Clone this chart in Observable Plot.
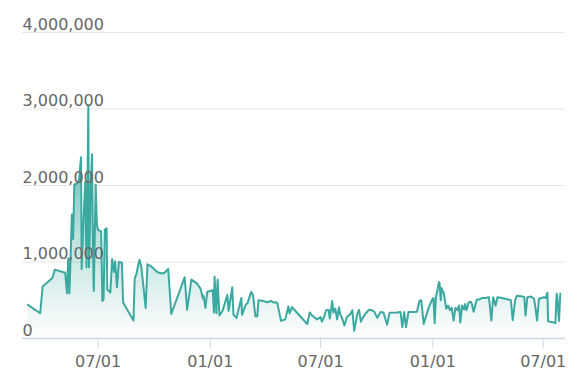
<!DOCTYPE html>
<html>
<head>
<meta charset="utf-8">
<script src="https://cdn.jsdelivr.net/npm/d3@7"></script>
<script src="https://cdn.jsdelivr.net/npm/@observablehq/plot@0.6"></script>
<style>
  html, body { margin: 0; padding: 0; background: #fff; }
</style>
</head>
<body>
<div id="chart"></div>
<script>
const dates = [
  "2020-03-08","2020-03-28","2020-04-01","2020-04-17","2020-04-21","2020-05-08","2020-05-11","2020-05-13","2020-05-15","2020-05-19",
  "2020-05-21","2020-05-23","2020-05-28","2020-05-31","2020-06-03","2020-06-04","2020-06-07","2020-06-10","2020-06-12","2020-06-15",
  "2020-06-16","2020-06-19","2020-06-21","2020-06-23","2020-06-24","2020-06-27","2020-06-29","2020-07-01","2020-07-06","2020-07-08",
  "2020-07-10","2020-07-12","2020-07-15","2020-07-16","2020-07-21","2020-07-24","2020-07-27","2020-07-29","2020-08-01","2020-08-04",
  "2020-08-09","2020-08-11","2020-08-28","2020-08-30","2020-09-02","2020-09-05","2020-09-07","2020-09-10","2020-09-17","2020-09-20",
  "2020-09-25","2020-10-06","2020-10-13","2020-10-18","2020-10-24","2020-10-29","2020-11-20","2020-11-24","2020-12-01","2020-12-10",
  "2020-12-16","2020-12-20","2020-12-21","2020-12-24","2020-12-27","2021-01-05","2021-01-07","2021-01-08","2021-01-11","2021-01-13",
  "2021-01-16","2021-01-21","2021-01-29","2021-01-31","2021-02-06","2021-02-08","2021-02-13","2021-02-21","2021-02-22","2021-02-28",
  "2021-03-03","2021-03-09","2021-03-12","2021-03-16","2021-03-19","2021-03-21","2021-03-29","2021-04-04","2021-04-11","2021-04-15",
  "2021-04-19","2021-04-21","2021-04-27","2021-05-04","2021-05-09","2021-05-11","2021-05-15","2021-05-24","2021-06-09","2021-06-13",
  "2021-06-17","2021-06-25","2021-07-01","2021-07-03","2021-07-06","2021-07-10","2021-07-14","2021-07-16","2021-07-20","2021-07-22",
  "2021-07-25","2021-07-28","2021-07-31","2021-08-02","2021-08-05","2021-08-09","2021-08-13","2021-08-19","2021-08-22","2021-08-25",
  "2021-08-30","2021-09-02","2021-09-05","2021-09-08","2021-09-12","2021-09-18","2021-09-23","2021-09-27","2021-10-02","2021-10-07",
  "2021-10-12","2021-10-18","2021-10-22","2021-11-03","2021-11-09","2021-11-12","2021-11-15","2021-11-18","2021-11-22","2021-11-30",
  "2021-12-06","2021-12-10","2021-12-13","2021-12-17","2021-12-25","2021-12-31","2022-01-02","2022-01-04","2022-01-06","2022-01-08",
  "2022-01-11","2022-01-12","2022-01-14","2022-01-15","2022-01-19","2022-01-23","2022-01-26","2022-01-29","2022-02-01","2022-02-04",
  "2022-02-07","2022-02-10","2022-02-13","2022-02-15","2022-02-18","2022-02-21","2022-02-23","2022-02-25","2022-03-01","2022-03-04",
  "2022-03-06","2022-03-09","2022-03-14","2022-03-18","2022-03-23","2022-03-28","2022-04-03","2022-04-07","2022-04-10","2022-04-14",
  "2022-04-17","2022-04-24","2022-04-30","2022-05-09","2022-05-12","2022-05-16","2022-05-19","2022-05-28","2022-05-31","2022-06-02",
  "2022-06-05","2022-06-11","2022-06-16","2022-06-18","2022-06-21","2022-06-24","2022-07-02","2022-07-05","2022-07-08","2022-07-09",
  "2022-07-18","2022-07-21","2022-07-23","2022-07-24","2022-07-27","2022-07-29"
];
const values = [
  440000,330000,680000,790000,900000,860000,590000,1050000,590000,1620000,
  1300000,2010000,2030000,2080000,2370000,910000,1550000,2050000,930000,3050000,
  930000,2000000,2410000,930000,620000,2010000,1480000,1420000,1400000,490000,
  520000,1420000,1440000,640000,600000,1040000,870000,1010000,670000,1000000,
  990000,470000,235000,780000,850000,970000,1030000,930000,400000,970000,
  950000,870000,850000,860000,910000,320000,800000,375000,770000,720000,
  650000,520000,560000,400000,610000,630000,340000,810000,330000,770000,
  300000,360000,570000,360000,670000,310000,270000,530000,310000,440000,
  460000,610000,570000,290000,290000,500000,490000,475000,490000,470000,
  475000,460000,230000,250000,420000,330000,410000,330000,190000,340000,
  300000,250000,280000,220000,270000,370000,375000,260000,490000,340000,
  390000,250000,410000,320000,270000,170000,280000,320000,370000,100000,
  320000,375000,220000,270000,320000,375000,370000,350000,270000,345000,
  340000,180000,335000,340000,345000,150000,345000,150000,345000,345000,
  350000,490000,500000,190000,400000,510000,530000,200000,540000,610000,
  740000,720000,500000,660000,585000,390000,430000,370000,400000,235000,
  400000,370000,430000,210000,430000,380000,450000,370000,475000,480000,
  450000,350000,510000,510000,530000,530000,540000,235000,540000,430000,
  540000,530000,520000,500000,240000,500000,560000,550000,540000,300000,
  540000,550000,520000,420000,235000,520000,540000,530000,600000,225000,
  210000,200000,585000,550000,230000,585000
];
const xTicks = ["2020-07-01","2021-01-01","2021-07-01","2022-01-01","2022-07-01"];
const yTicks = [0, 1000000, 2000000, 3000000, 4000000];

const data = dates.map((d, i) => ({date: new Date(d), value: values[i]}));
const xTickDates = xTicks.map(d => new Date(d));

const chart = Plot.plot({
  width: 578,
  height: 392,
  marginLeft: 22,
  marginRight: 13,
  marginTop: 32,
  marginBottom: 54,
  style: {fontFamily: "DejaVu Sans", fontSize: "16px", color: "#666", background: "#fff"},
  x: {type: "utc", domain: [new Date("2020-02-28T00:00Z"), new Date("2022-08-06T14:00Z")], label: null},
  y: {domain: [0, 4000000], label: null},
  marks: [
    Plot.gridY(yTicks.slice(1), {stroke: "#e6e6e6", strokeOpacity: 1}),
    Plot.areaY(data, {x: "date", y: "value", fill: "url(#tealFade)"}),
    Plot.lineY(data, {x: "date", y: "value", stroke: "#3ba99f", strokeWidth: 2, strokeLinejoin: "round"}),
    Plot.ruleY([0], {stroke: "#ccd6eb", strokeWidth: 1.5}),
    Plot.axisX({ticks: xTickDates, tickFormat: d3.utcFormat("%m/%d"), tickSize: 10, tickPadding: 7,
                stroke: "#ccd6eb", fill: "#666", fontSize: 16}),
    Plot.axisY({ticks: yTicks, tickFormat: d3.format(","), tickSize: 0, tickPadding: 0,
                textAnchor: "start", lineAnchor: "bottom", dy: -3, fill: "#666", fontSize: 16})
  ]
});

const defs = d3.select(chart).insert("defs", ":first-child");
const grad = defs.append("linearGradient").attr("id", "tealFade")
  .attr("x1", 0).attr("y1", 0).attr("x2", 0).attr("y2", 1);
grad.append("stop").attr("offset", 0).attr("stop-color", "#3ba99f").attr("stop-opacity", 1);
grad.append("stop").attr("offset", 0.55).attr("stop-color", "#3ba99f").attr("stop-opacity", 0.35);
grad.append("stop").attr("offset", 1).attr("stop-color", "#3ba99f").attr("stop-opacity", 0.01);

document.getElementById("chart").appendChild(chart);
</script>
</body>
</html>
